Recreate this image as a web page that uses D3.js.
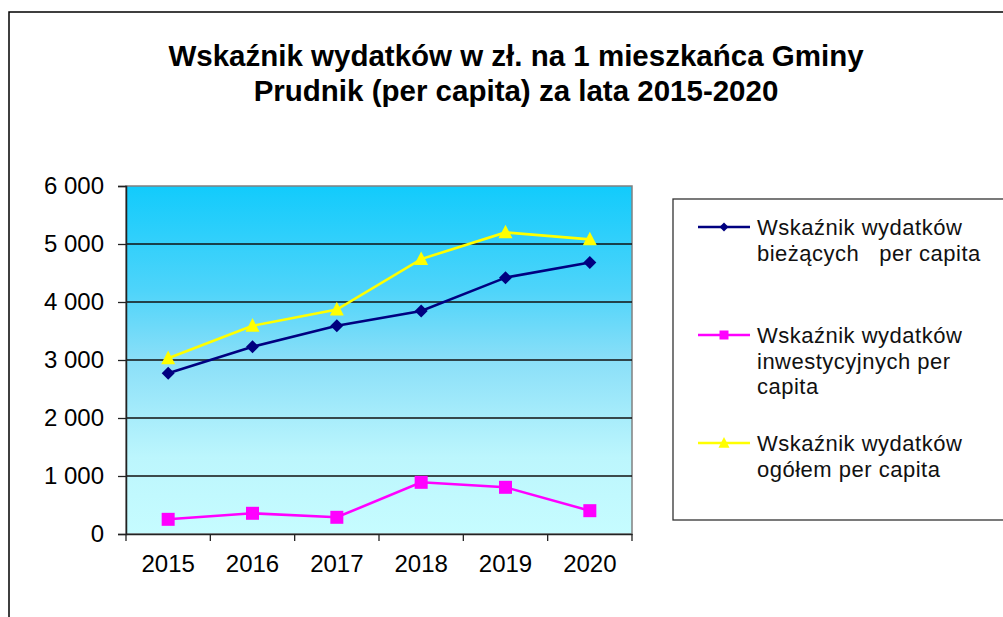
<!DOCTYPE html>
<html>
<head>
<meta charset="utf-8">
<script src="https://cdn.jsdelivr.net/npm/d3@7"></script>
<style>
  body { margin: 0; background: #fff; }
  svg { display: block; font-family: "Liberation Sans", Arial, sans-serif; }
</style>
</head>
<body>
<div id="chart"></div>
<script>
// Dane
const years = ["2015", "2016", "2017", "2018", "2019", "2020"];
const biezace = [2770, 3230, 3590, 3845, 4420, 4680];
const inwestycyjne = [253, 357, 288, 891, 805, 402];
const ogolem = [3030, 3590, 3870, 4740, 5200, 5080];
const yTicks = [0, 1000, 2000, 3000, 4000, 5000, 6000];
const titleLines = ["Wskaźnik wydatków w zł. na 1 mieszkańca Gminy", "Prudnik (per capita) za lata 2015-2020"];
const seriesNames = [
    ["Wskaźnik wydatków", "bieżących   per capita"],
    ["Wskaźnik wydatków", "inwestycyjnych per", "capita"],
    ["Wskaźnik wydatków", "ogółem per capita"]
];

const width = 1003, height = 617;
const plot = { left: 126, right: 632, top: 186, bottom: 534 };

const svg = d3.select("#chart")
    .append("svg")
    .attr("width", width)
    .attr("height", height);

// Gradient tła
const grad = svg.append("defs").append("linearGradient")
    .attr("id", "bg")
    .attr("x1", 0).attr("y1", 0).attr("x2", 0).attr("y2", 1);
[[0, "#12cbfc"], [0.3, "#4ed4fa"], [0.5, "#8adff8"], [0.78, "#bcf6fd"], [1, "#c6fcff"]]
    .forEach(s => grad.append("stop").attr("offset", s[0]).attr("stop-color", s[1]));

// Ramka zewnętrzna
svg.append("path")
    .attr("d", `M9,${height} V12 H${width}`)
    .attr("fill", "none")
    .attr("stroke", "#000")
    .attr("stroke-width", 1.5);

// Tytuł
svg.append("text")
    .attr("text-anchor", "middle")
    .attr("font-weight", "bold")
    .attr("font-size", "29.5px")
    .attr("fill", "#000")
    .selectAll("tspan")
    .data(titleLines)
    .enter()
    .append("tspan")
    .attr("x", 516)
    .attr("y", (d, i) => 66 + i * 35)
    .text(d => d);

const x = d3.scaleBand().domain(years).range([plot.left, plot.right]);
const y = d3.scaleLinear().domain([0, 6000]).range([plot.bottom, plot.top]);

// Obszar wykresu
svg.append("rect")
    .attr("x", plot.left)
    .attr("y", plot.top)
    .attr("width", plot.right - plot.left)
    .attr("height", plot.bottom - plot.top)
    .attr("fill", "url(#bg)")
    .attr("stroke", "#808080")
    .attr("stroke-width", 1.5);

// Linie siatki
svg.selectAll("line.grid")
    .data(yTicks.filter(t => t > 0 && t < 6000))
    .enter()
    .append("line")
    .attr("class", "grid")
    .attr("x1", plot.left)
    .attr("x2", plot.right)
    .attr("y1", d => y(d))
    .attr("y2", d => y(d))
    .attr("stroke", "#111")
    .attr("stroke-width", 1.5);

// Oś Y
const fmt = d3.format(",");
const yAxis = svg.append("g")
    .attr("transform", `translate(${plot.left},0)`)
    .call(d3.axisLeft(y).tickValues(yTicks).tickSize(8).tickPadding(14)
        .tickFormat(d => fmt(d).replace(/,/g, " ")));
yAxis.select(".domain").attr("stroke", "#222").attr("stroke-width", 1.5);
yAxis.selectAll(".tick line").attr("stroke", "#222").attr("stroke-width", 1.3);
yAxis.selectAll("text").attr("font-size", "24px").attr("fill", "#000")
    .attr("font-family", "Liberation Sans, Arial, sans-serif");

// Oś X
const xAxis = svg.append("g")
    .attr("transform", `translate(0,${plot.bottom})`)
    .call(d3.axisBottom(x).tickSize(0).tickPadding(21));
xAxis.select(".domain").attr("stroke", "#222").attr("stroke-width", 1.5);
xAxis.selectAll("text").attr("font-size", "24px").attr("fill", "#000")
    .attr("font-family", "Liberation Sans, Arial, sans-serif");

// Znaczniki między kategoriami
const bounds = years.map(d => x(d)).concat([x(years[years.length - 1]) + x.bandwidth()]);
svg.selectAll("line.xtick")
    .data(bounds)
    .enter()
    .append("line")
    .attr("class", "xtick")
    .attr("x1", d => d)
    .attr("x2", d => d)
    .attr("y1", plot.bottom)
    .attr("y2", plot.bottom + 7)
    .attr("stroke", "#222")
    .attr("stroke-width", 1.3);

// Kształty znaczników
function diamond(r) { return `M0,${-r}L${r},0L0,${r}L${-r},0Z`; }
function square(r) { return `M${-r},${-r}H${r}V${r}H${-r}Z`; }
function triangle(r) { return `M0,${-r * 1.1}L${r},${r * 0.85}L${-r},${r * 0.85}Z`; }

const series = [
    { values: biezace, color: "#000080", shape: diamond, size: 6.5, legendSize: 4.5 },
    { values: inwestycyjne, color: "#ff00ff", shape: square, size: 6.5, legendSize: 4.5 },
    { values: ogolem, color: "#ffff00", shape: triangle, size: 7, legendSize: 5.5 }
];

const line = d3.line()
    .x((d, i) => x(years[i]) + x.bandwidth() / 2)
    .y(d => y(d));

// Rysowanie serii
series.forEach(s => {
    svg.append("path")
        .datum(s.values)
        .attr("d", line)
        .attr("fill", "none")
        .attr("stroke", s.color)
        .attr("stroke-width", 2.6);

    svg.selectAll(null)
        .data(s.values)
        .enter()
        .append("path")
        .attr("transform", (d, i) => `translate(${x(years[i]) + x.bandwidth() / 2},${y(d)})`)
        .attr("d", s.shape(s.size))
        .attr("fill", s.color);
});

// Legenda
svg.append("rect")
    .attr("x", 673)
    .attr("y", 199)
    .attr("width", 400)
    .attr("height", 321)
    .attr("fill", "#fff")
    .attr("stroke", "#333")
    .attr("stroke-width", 1.3);

const legendY = [227, 335, 443];
series.forEach((s, i) => {
    const g = svg.append("g").attr("transform", `translate(0,${legendY[i]})`);
    g.append("line")
        .attr("x1", 698).attr("x2", 750)
        .attr("y1", 0).attr("y2", 0)
        .attr("stroke", s.color)
        .attr("stroke-width", 2.6);
    g.append("path")
        .attr("transform", "translate(724,0)")
        .attr("d", s.shape(s.legendSize))
        .attr("fill", s.color);
    g.append("text")
        .attr("font-size", "22px")
        .attr("letter-spacing", "0.5px")
        .attr("fill", "#111")
        .style("white-space", "pre")
        .selectAll("tspan")
        .data(seriesNames[i])
        .enter()
        .append("tspan")
        .attr("x", 757)
        .attr("y", (d, j) => 8 + j * 25.5)
        .text(d => d);
});
</script>
</body>
</html>
